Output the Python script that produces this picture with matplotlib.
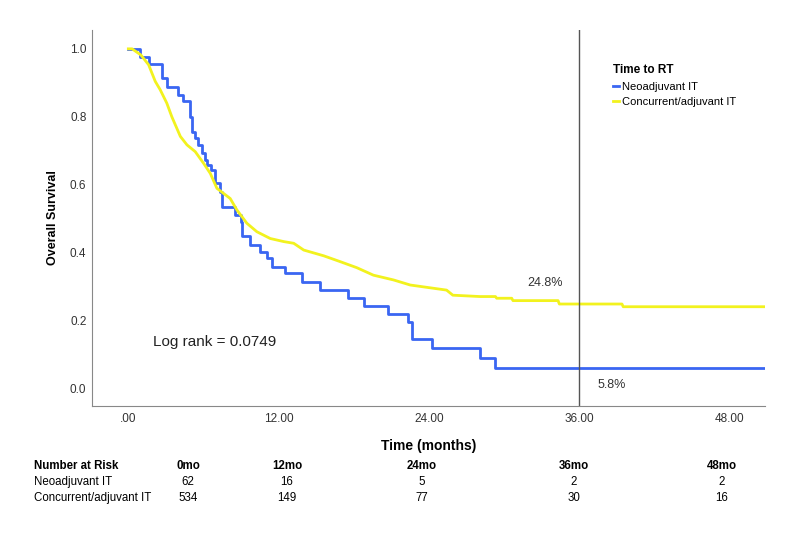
import numpy as np
import matplotlib
matplotlib.use('Agg')
import matplotlib.pyplot as plt
from matplotlib.ticker import FuncFormatter

plt.rcParams['font.family'] = ['Liberation Sans', 'DejaVu Sans']

# Kaplan-Meier curves (months, survival)
neo_t = [0, 0.96, 1.62, 2.69, 3.08, 4.0, 4.4, 4.94, 5.08, 5.34, 5.58, 5.87, 6.14, 6.3,
         6.6, 6.94, 7.34, 7.47, 8.53, 9.0, 9.06, 9.73, 10.5, 11.06, 11.46, 12.5, 13.85,
         15.3, 17.57, 18.77, 20.76, 22.35, 22.62, 24.2, 28.07, 29.27, 50.8]
neo_s = [1.0, 0.977, 0.955, 0.915, 0.889, 0.864, 0.845, 0.80, 0.756, 0.737, 0.717, 0.693,
         0.673, 0.658, 0.643, 0.604, 0.579, 0.535, 0.51, 0.49, 0.447, 0.422, 0.402, 0.383,
         0.358, 0.338, 0.314, 0.289, 0.265, 0.242, 0.22, 0.196, 0.146, 0.117, 0.088, 0.058,
         0.058]

# larger group has many tiny steps -> traced as a polyline
conc_t = [0, 0.3, 1.0, 1.62, 2.15, 2.55, 3.07, 3.47, 4.15, 4.68, 5.34, 6.0, 6.54, 7.07,
          8.13, 8.67, 9.46, 10.26, 11.33, 12.4, 13.2, 14.0, 15.6, 16.9, 18.24, 19.56,
          21.16, 22.5, 25.4, 25.9, 28.07, 29.3, 29.4, 30.6, 30.7, 34.3, 34.4, 39.4, 39.5,
          50.8]
conc_s = [1.0, 1.0, 0.982, 0.953, 0.904, 0.879, 0.84, 0.80, 0.742, 0.717, 0.697, 0.663,
          0.633, 0.589, 0.559, 0.525, 0.486, 0.461, 0.441, 0.432, 0.427, 0.407, 0.390,
          0.373, 0.355, 0.333, 0.319, 0.304, 0.289, 0.274, 0.27, 0.27, 0.265, 0.265,
          0.258, 0.258, 0.248, 0.248, 0.24, 0.24]

groups = ['Neoadjuvant IT', 'Concurrent/adjuvant IT']
xticks = [0, 12, 24, 36, 48]
risk_cols = ['0mo', '12mo', '24mo', '36mo', '48mo']
risk_neo = [62, 16, 5, 2, 2]
risk_conc = [534, 149, 77, 30, 16]

blue = '#3a66f2'
yellow = '#f2f21e'

fig = plt.figure(figsize=(8, 5.33), dpi=100)
ax = fig.add_axes([0.115, 0.238, 0.841, 0.706])

ax.plot(neo_t, neo_s, drawstyle='steps-post', color=blue, lw=2.0, label=groups[0])
ax.plot(conc_t, conc_s, color=yellow, lw=2.0, label=groups[1])
ax.axvline(36, color='#555555', lw=1)

ax.set_xlim(-2.9, 50.8)
ax.set_ylim(-0.053, 1.056)
ax.set_xticks(xticks)
ax.set_yticks(np.arange(0, 1.01, 0.2))
ax.xaxis.set_major_formatter(FuncFormatter(lambda v, p: f'{v:.2f}'.lstrip('0') if v == 0 else f'{v:.2f}'))
ax.yaxis.set_major_formatter(FuncFormatter(lambda v, p: f'{v:.1f}'))
ax.tick_params(length=0, labelsize=8.5, labelcolor='#333333')
ax.tick_params(axis='y', pad=4)
ax.tick_params(axis='x', pad=5)
for s in ['top', 'right']:
    ax.spines[s].set_visible(False)
for s in ['left', 'bottom']:
    ax.spines[s].set_color('#888888')

ax.set_ylabel('Overall Survival', fontsize=9, fontweight='bold', labelpad=8)
ax.set_xlabel('Time (months)', fontsize=10, fontweight='bold', labelpad=10)

ax.text(2.0, 0.137, 'Log rank = 0.0749', fontsize=11, color='#222222', va='center')
ax.text(33.3, 0.31, '24.8%', fontsize=9, color='#333333', ha='center', va='center')
ax.text(38.6, 0.009, '5.8%', fontsize=9, color='#333333', ha='center', va='center')

leg = ax.legend(loc='upper left', bbox_to_anchor=(613 / 800, 1 - 64 / 533),
                bbox_transform=fig.transFigure, frameon=False, fontsize=8,
                title='Time to RT', title_fontproperties={'weight': 'bold', 'size': 8.5},
                alignment='left', handlelength=0.5, handletextpad=0.35,
                labelspacing=0.5, borderpad=0, borderaxespad=0)

# number at risk table
col_x = [188, 287, 422, 574, 722]
rows_y = [466, 482, 498]
fig.text(34 / 800, 1 - rows_y[0] / 533, 'Number at Risk', fontsize=8.3,
         fontweight='bold', va='center')
fig.text(34 / 800, 1 - rows_y[1] / 533, groups[0], fontsize=8.3, va='center')
fig.text(34 / 800, 1 - rows_y[2] / 533, groups[1], fontsize=8.3, va='center')
for cx, lab, a, b in zip(col_x, risk_cols, risk_neo, risk_conc):
    fig.text(cx / 800, 1 - rows_y[0] / 533, lab, fontsize=8.3, fontweight='bold',
             ha='center', va='center')
    fig.text(cx / 800, 1 - rows_y[1] / 533, str(a), fontsize=8.3, ha='center', va='center')
    fig.text(cx / 800, 1 - rows_y[2] / 533, str(b), fontsize=8.3, ha='center', va='center')

fig.savefig('out.png', dpi=100)
